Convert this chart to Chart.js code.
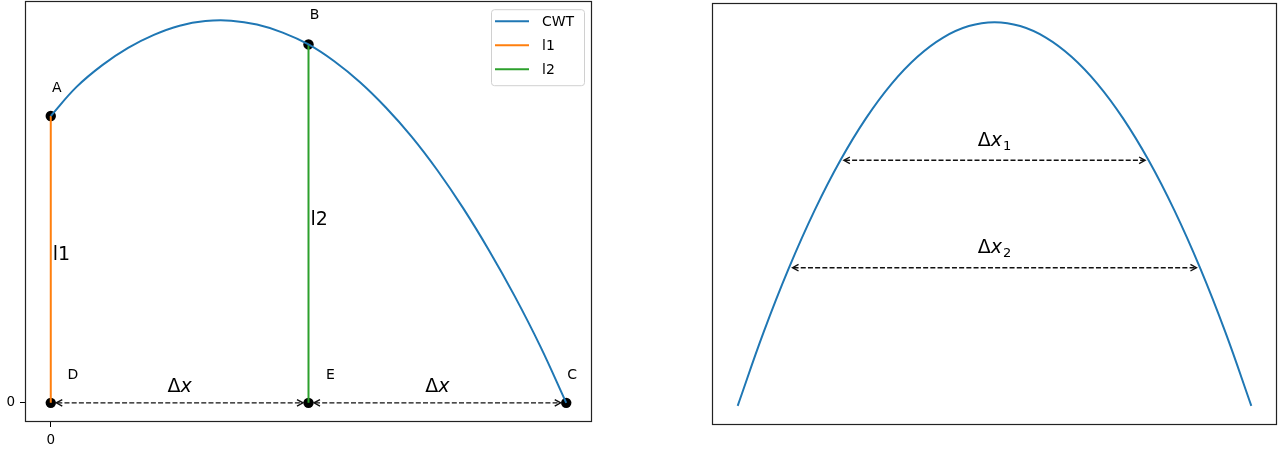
<!DOCTYPE html>
<html>
<head>
<meta charset="utf-8">
<script src="https://cdn.jsdelivr.net/npm/chart.js@4/dist/chart.umd.min.js"></script>
<style>
    body { margin: 0; background: #fff; overflow: hidden; }
    #cwtChart { position: absolute; left: 0; top: -4px; }
    #peakChart { position: absolute; left: 700px; top: 0; }
</style>
</head>
<body>
<canvas id="cwtChart" width="600" height="457"></canvas>
<canvas id="peakChart" width="579" height="453"></canvas>
<script>
// 左圖：CWT 曲線
const cwtX = [0, 0.1, 0.2, 0.3, 0.4, 0.5, 0.6, 0.7, 0.8, 0.9, 1.0,
              1.1, 1.2, 1.3, 1.4, 1.5, 1.6, 1.7, 1.8, 1.9, 2.0];
const cwtY = [0.75, 0.826, 0.883, 0.928, 0.962, 0.986, 0.998, 0.999, 0.989, 0.968, 0.937,
              0.893, 0.838, 0.772, 0.696, 0.608, 0.509, 0.399, 0.279, 0.147, 0.0];

// 兩條垂直線段 l1、l2
const l1X = [0, 0];
const l1Y = [0, 0.75];
const l2X = [1, 1];
const l2Y = [0, 0.937];

// 標記點
const pointNames = ['A', 'B', 'C', 'D', 'E'];
const pointX = [0, 1, 2, 0, 1];
const pointY = [0.75, 0.937, 0, 0, 0];

// Δx 箭頭 (y = 0)
const stepStart = [0, 1];
const stepEnd = [1, 2];

// 座標軸刻度
const tickValues = [0];

// 右圖：峰形曲線
const peakX = [-1, -0.9, -0.8, -0.7, -0.6, -0.5, -0.4, -0.3, -0.2, -0.1, 0,
               0.1, 0.2, 0.3, 0.4, 0.5, 0.6, 0.7, 0.8, 0.9, 1];
const peakY = [0, 0.19, 0.36, 0.51, 0.64, 0.75, 0.84, 0.91, 0.96, 0.99, 1,
               0.99, 0.96, 0.91, 0.84, 0.75, 0.64, 0.51, 0.36, 0.19, 0];

// 寬度箭頭 Δx1、Δx2
const widthLevel = [0.64, 0.36];
const widthLeft = [-0.6, -0.8];
const widthRight = [0.6, 0.8];
const widthSub = ['1', '2'];

const FONT = '"DejaVu Sans", sans-serif';
const COLORS = { cwt: '#1f77b4', l1: '#ff7f0e', l2: '#2ca02c' };

// 標籤相對於點的偏移 (px)
const LABEL_OFFSET = {
    A: [6, -28], B: [6, -29], C: [6, -28], D: [22, -28], E: [22, -28]
};

function toPoints(xs, ys) {
    return xs.map((x, i) => ({ x: x, y: ys[i] }));
}

// 虛線雙向箭頭
function drawArrow(ctx, x1, x2, y, shrink) {
    const a = x1 + shrink;
    const b = x2 - shrink;
    ctx.save();
    ctx.strokeStyle = '#111';
    ctx.lineWidth = 1.4;
    ctx.setLineDash([5, 2.2]);
    ctx.beginPath();
    ctx.moveTo(a + 1, y);
    ctx.lineTo(b - 1, y);
    ctx.stroke();
    ctx.setLineDash([]);
    ctx.beginPath();
    ctx.moveTo(a + 6, y - 3.3);
    ctx.lineTo(a, y);
    ctx.lineTo(a + 6, y + 3.3);
    ctx.moveTo(b - 6, y - 3.3);
    ctx.lineTo(b, y);
    ctx.lineTo(b - 6, y + 3.3);
    ctx.stroke();
    ctx.restore();
}

// Δx 數學文字（x 斜體，可帶下標）
function drawDelta(ctx, cx, baseY, size, sub) {
    const up = size + 'px ' + FONT;
    const it = 'italic ' + size + 'px ' + FONT;
    const sm = Math.round(size * 0.7) + 'px ' + FONT;
    ctx.save();
    ctx.fillStyle = '#000';
    ctx.textAlign = 'left';
    ctx.textBaseline = 'alphabetic';
    ctx.font = up;
    const wD = ctx.measureText('Δ').width;
    ctx.font = it;
    const wx = ctx.measureText('x').width;
    let ws = 0;
    if (sub) {
        ctx.font = sm;
        ws = ctx.measureText(sub).width + 1;
    }
    let x = cx - (wD + wx + ws) / 2;
    ctx.font = up;
    ctx.fillText('Δ', x, baseY);
    x += wD;
    ctx.font = it;
    ctx.fillText('x', x, baseY);
    x += wx + 1;
    if (sub) {
        ctx.font = sm;
        ctx.fillText(sub, x, baseY + size * 0.2);
    }
    ctx.restore();
}

// 外框
const framePlugin = {
    id: 'frame',
    afterDatasetsDraw(chart) {
        const { ctx, chartArea: a } = chart;
        ctx.save();
        ctx.strokeStyle = '#222';
        ctx.lineWidth = 1.2;
        ctx.strokeRect(Math.round(a.left) + 0.5, Math.round(a.top) + 0.5,
                       Math.round(a.right - a.left) - 1, Math.round(a.bottom - a.top) - 1);
        ctx.restore();
    }
};

// 左圖的文字、箭頭與圖例
const cwtAnnotations = {
    id: 'cwtAnnotations',
    afterDraw(chart) {
        const ctx = chart.ctx;
        const xs = chart.scales.x;
        const ys = chart.scales.y;

        // Δx 箭頭
        stepStart.forEach((s, i) => {
            const y0 = ys.getPixelForValue(0);
            const p1 = xs.getPixelForValue(s);
            const p2 = xs.getPixelForValue(stepEnd[i]);
            drawArrow(ctx, p1, p2, y0, 5.5);
            drawDelta(ctx, (p1 + p2) / 2, y0 - 10.5, 19, null);
        });

        // 點標籤
        ctx.save();
        ctx.fillStyle = '#000';
        ctx.font = '14px ' + FONT;
        ctx.textAlign = 'center';
        ctx.textBaseline = 'middle';
        pointNames.forEach((name, i) => {
            const off = LABEL_OFFSET[name];
            ctx.fillText(name, xs.getPixelForValue(pointX[i]) + off[0],
                         ys.getPixelForValue(pointY[i]) + off[1]);
        });

        // 線段標籤
        ctx.font = '19px ' + FONT;
        ctx.textAlign = 'left';
        ctx.textBaseline = 'alphabetic';
        [[l1X, l1Y, 'l1'], [l2X, l2Y, 'l2']].forEach(([lx, ly, text]) => {
            const mid = (ly[0] + ly[1]) / 2;
            ctx.fillText(text, xs.getPixelForValue(lx[0]) + 2, ys.getPixelForValue(mid) + 1);
        });
        ctx.restore();

        // 圖例
        const a = chart.chartArea;
        const bw = 93, bh = 76;
        const bx = a.right - 8 - bw;
        const by = a.top + 8;
        ctx.save();
        ctx.beginPath();
        ctx.roundRect(bx + 0.5, by + 0.5, bw, bh, 3);
        ctx.fillStyle = 'rgba(255,255,255,0.8)';
        ctx.fill();
        ctx.strokeStyle = '#d0d0d0';
        ctx.lineWidth = 1;
        ctx.stroke();
        ctx.font = '14px ' + FONT;
        ctx.textAlign = 'left';
        ctx.textBaseline = 'middle';
        ctx.fillStyle = '#000';
        chart.data.datasets.filter(d => d.label).forEach((d, i) => {
            const y = by + 12 + i * 24;
            ctx.strokeStyle = d.borderColor;
            ctx.lineWidth = 2;
            ctx.beginPath();
            ctx.moveTo(bx + 4, y);
            ctx.lineTo(bx + 38, y);
            ctx.stroke();
            ctx.fillText(d.label, bx + 51, y + 1);
        });
        ctx.restore();
    }
};

// 右圖的寬度箭頭
const peakAnnotations = {
    id: 'peakAnnotations',
    afterDraw(chart) {
        const ctx = chart.ctx;
        const xs = chart.scales.x;
        const ys = chart.scales.y;
        widthLevel.forEach((lv, i) => {
            const y = ys.getPixelForValue(lv);
            const p1 = xs.getPixelForValue(widthLeft[i]);
            const p2 = xs.getPixelForValue(widthRight[i]);
            drawArrow(ctx, p1, p2, y, 3.5);
            drawDelta(ctx, (p1 + p2) / 2, y - 14.5, 19, widthSub[i]);
        });
    }
};

function tickAxis() {
    return {
        type: 'linear',
        afterBuildTicks: scale => { scale.ticks = tickValues.map(v => ({ value: v })); },
        grid: { drawOnChartArea: false, drawTicks: true, tickLength: 5, color: '#000', lineWidth: 1 },
        border: { display: false },
        ticks: { color: '#000', font: { family: FONT, size: 13.5 }, padding: 5, maxRotation: 0 }
    };
}

function loadCwtChart() {
    const xAxis = tickAxis();
    xAxis.min = -0.1;
    xAxis.max = 2.1;
    xAxis.afterFit = scale => {
        scale.height = 31;
        scale.paddingLeft = 0;
        scale.paddingRight = 0;
    };
    const yAxis = tickAxis();
    yAxis.min = -0.05;
    yAxis.max = 1.05;
    yAxis.afterFit = scale => {
        scale.width = 25;
        scale.paddingTop = 0;
        scale.paddingBottom = 0;
    };

    new Chart(document.getElementById('cwtChart'), {
        type: 'scatter',
        data: {
            datasets: [
                {
                    label: 'CWT',
                    data: toPoints(cwtX, cwtY),
                    showLine: true,
                    borderColor: COLORS.cwt,
                    borderWidth: 2,
                    pointRadius: 0,
                    tension: 0.4
                },
                {
                    label: 'l1',
                    data: toPoints(l1X, l1Y),
                    showLine: true,
                    borderColor: COLORS.l1,
                    borderWidth: 2,
                    pointRadius: 0
                },
                {
                    label: 'l2',
                    data: toPoints(l2X, l2Y),
                    showLine: true,
                    borderColor: COLORS.l2,
                    borderWidth: 2,
                    pointRadius: 0
                },
                {
                    label: '',
                    data: toPoints(pointX, pointY),
                    showLine: false,
                    pointRadius: 5.2,
                    pointBorderWidth: 0,
                    backgroundColor: '#000',
                    borderColor: '#000'
                }
            ]
        },
        options: {
            responsive: false,
            animation: false,
            events: [],
            layout: { padding: { top: 1, right: 8, left: 0, bottom: 0 } },
            plugins: { legend: { display: false }, tooltip: { enabled: false } },
            scales: { x: xAxis, y: yAxis }
        },
        plugins: [framePlugin, cwtAnnotations]
    });
}

function loadPeakChart() {
    new Chart(document.getElementById('peakChart'), {
        type: 'scatter',
        data: {
            datasets: [{
                label: 'peak',
                data: toPoints(peakX, peakY),
                showLine: true,
                borderColor: COLORS.cwt,
                borderWidth: 2,
                pointRadius: 0,
                tension: 0.4
            }]
        },
        options: {
            responsive: false,
            animation: false,
            events: [],
            layout: { padding: { top: 3, right: 2, left: 12, bottom: 28 } },
            plugins: { legend: { display: false }, tooltip: { enabled: false } },
            scales: {
                x: { type: 'linear', display: false, min: -1.1, max: 1.1 },
                y: { type: 'linear', display: false, min: -0.05, max: 1.05 }
            }
        },
        plugins: [framePlugin, peakAnnotations]
    });
}

loadCwtChart();
loadPeakChart();
</script>
</body>
</html>
